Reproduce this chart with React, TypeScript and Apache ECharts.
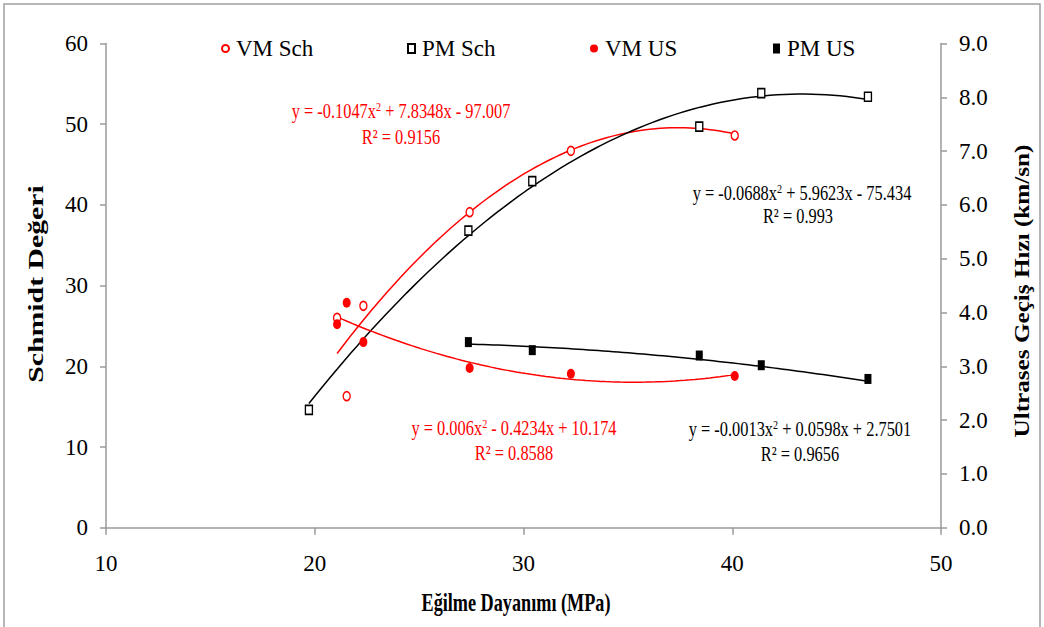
import React, { useEffect, useRef } from "react";
import * as echarts from "echarts";

// Flexural strength (MPa) of the samples
const vmStrength = [21.07, 21.53, 22.33, 27.42, 32.27, 40.12];
const pmStrength = [19.72, 27.36, 30.42, 38.42, 41.39, 46.5];
const pmUsStrength = [27.36, 30.42, 38.42, 41.39, 46.5];

// Schmidt rebound values (left axis)
const vmSchmidt = [26.0, 16.3, 27.5, 39.1, 46.7, 48.6];
const pmSchmidt = [14.6, 36.8, 42.95, 49.7, 53.85, 53.4];

// Ultrasonic pulse velocity, km/s (right axis)
const vmUltrasonic = [3.78, 4.18, 3.45, 2.97, 2.86, 2.82];
const pmUltrasonic = [3.45, 3.3, 3.2, 3.02, 2.765];

// Second-order trend fits: [a, b, c] for y = a x^2 + b x + c, and R²
const vmSchFit = [-0.1047, 7.8348, -97.007];
const pmSchFit = [-0.0688, 5.9623, -75.434];
const vmUsFit = [0.006, -0.4234, 10.174];
const pmUsFit = [-0.0013, 0.0598, 2.7501];
const vmSchR2 = "0.9156";
const pmSchR2 = "0.993";
const vmUsR2 = "0.8588";
const pmUsR2 = "0.9656";

const seriesNames = ["VM Sch", "PM Sch", "VM US", "PM US"];
const leftTicks = [0, 60, 10];
const rightTicks = [0, 9, 1];
const xTicks = [10, 50, 10];

const SERIF = "Liberation Serif";
const RED = "#ff0000";
const BLACK = "#000000";
const ELLIPSE = "path://M0,1A1,1,0,1,1,0,-1A1,1,0,1,1,0,1Z";

const pairs = (xs: number[], ys: number[]) => xs.map((x, i) => [x, ys[i]]);

// Trend curve sampled over the span of the measured strengths
const trend = (xs: number[], fit: number[]) => {
  const lo = Math.min(...xs);
  const hi = Math.max(...xs);
  const n = 80;
  const out: number[][] = [];
  for (let i = 0; i <= n; i++) {
    const x = lo + ((hi - lo) * i) / n;
    out.push([x, fit[0] * x * x + fit[1] * x + fit[2]]);
  }
  return out;
};

const term = (v: number) => (v < 0 ? `- ${Math.abs(v)}` : `+ ${v}`);
const equation = (fit: number[]) =>
  `{m|y = ${fit[0]}x}{s|2}{m| ${term(fit[1])}x ${term(fit[2])}}`;

const eqText = (text: string, x: number, y: number, color: string, rich = true) => ({
  type: "text",
  x,
  y,
  scaleX: 0.78,
  silent: true,
  style: {
    text,
    fill: color,
    fontFamily: SERIF,
    fontSize: 21,
    align: "center",
    verticalAlign: "middle",
    textAlign: "center",
    textVerticalAlign: "middle",
    rich: rich
      ? {
          m: { fontFamily: SERIF, fontSize: 21, lineHeight: 21, color, fill: color },
          s: { fontFamily: SERIF, fontSize: 13, lineHeight: 11, verticalAlign: "top", color, fill: color },
        }
      : undefined,
  },
});

const titleText = (text: string, x: number, y: number, rotation: number, sx: number, sy: number, size: number) => ({
  type: "text",
  x,
  y,
  rotation,
  scaleX: sx,
  scaleY: sy,
  silent: true,
  style: {
    text,
    fill: BLACK,
    fontFamily: SERIF,
    fontWeight: "bold",
    fontSize: size,
    align: "center",
    verticalAlign: "middle",
    textAlign: "center",
    textVerticalAlign: "middle",
  },
});

const axisGray = "#9a9a9a";
const tickFont = { fontFamily: SERIF, fontSize: 23, color: BLACK };

const legendSpots = [
  { left: 221, w: 7, h: 9 },
  { left: 407, w: 7, h: 9 },
  { left: 590, w: 8, h: 10 },
  { left: 773, w: 7, h: 10 },
];

const option: any = {
  animation: false,
  backgroundColor: "#ffffff",
  textStyle: { fontFamily: SERIF },
  grid: { left: 106, right: 103, top: 43.5, bottom: 99.3, containLabel: false },
  legend: seriesNames.map((name, i) => ({
    data: [name],
    left: legendSpots[i].left,
    top: 37,
    padding: 0,
    itemWidth: legendSpots[i].w,
    itemHeight: legendSpots[i].h,
    selectedMode: false,
    textStyle: { fontFamily: SERIF, fontSize: 23, color: BLACK, lineHeight: 22, padding: [0, 0, 0, 2] },
  })),
  xAxis: {
    type: "value",
    min: xTicks[0],
    max: xTicks[1],
    interval: xTicks[2],
    axisLine: { show: true, lineStyle: { color: axisGray, width: 1.5 } },
    axisTick: { show: true, inside: false, length: 7, lineStyle: { color: axisGray, width: 1.5 } },
    splitLine: { show: false },
    axisLabel: { ...tickFont, margin: 24 },
  },
  yAxis: [
    {
      type: "value",
      position: "left",
      min: leftTicks[0],
      max: leftTicks[1],
      interval: leftTicks[2],
      axisLine: { show: true, lineStyle: { color: axisGray, width: 1.5 } },
      axisTick: { show: true, inside: false, length: 6, lineStyle: { color: axisGray, width: 1.5 } },
      splitLine: { show: false },
      axisLabel: { ...tickFont, margin: 18 },
    },
    {
      type: "value",
      position: "right",
      min: rightTicks[0],
      max: rightTicks[1],
      interval: rightTicks[2],
      axisLine: { show: true, lineStyle: { color: axisGray, width: 1.5 } },
      axisTick: { show: true, inside: false, length: 6, lineStyle: { color: axisGray, width: 1.5 } },
      splitLine: { show: false },
      axisLabel: {
        ...tickFont,
        margin: 18,
        formatter: (v: number) => v.toFixed(1),
      },
    },
  ],
  series: [
    {
      name: "VM Sch trend",
      type: "line",
      yAxisIndex: 0,
      data: trend(vmStrength, vmSchFit),
      showSymbol: false,
      lineStyle: { color: RED, width: 1.5 },
      itemStyle: { color: RED },
      silent: true,
      z: 1,
    },
    {
      name: "PM Sch trend",
      type: "line",
      yAxisIndex: 0,
      data: trend(pmStrength, pmSchFit),
      showSymbol: false,
      lineStyle: { color: BLACK, width: 1.5 },
      itemStyle: { color: BLACK },
      silent: true,
      z: 1,
    },
    {
      name: "VM US trend",
      type: "line",
      yAxisIndex: 1,
      data: trend(vmStrength, vmUsFit),
      showSymbol: false,
      lineStyle: { color: RED, width: 1.5 },
      itemStyle: { color: RED },
      silent: true,
      z: 1,
    },
    {
      name: "PM US trend",
      type: "line",
      yAxisIndex: 1,
      data: trend(pmUsStrength, pmUsFit),
      showSymbol: false,
      lineStyle: { color: BLACK, width: 1.5 },
      itemStyle: { color: BLACK },
      silent: true,
      z: 1,
    },
    {
      name: seriesNames[0],
      type: "scatter",
      yAxisIndex: 0,
      data: pairs(vmStrength, vmSchmidt),
      symbol: ELLIPSE,
      symbolSize: [7, 9],
      itemStyle: { color: "#ffffff", borderColor: RED, borderWidth: 1.5, opacity: 1 },
      z: 3,
    },
    {
      name: seriesNames[1],
      type: "scatter",
      yAxisIndex: 0,
      data: pairs(pmStrength, pmSchmidt),
      symbol: "rect",
      symbolSize: [7, 9],
      itemStyle: { color: "#ffffff", borderColor: BLACK, borderWidth: 1.5, opacity: 1 },
      z: 3,
    },
    {
      name: seriesNames[2],
      type: "scatter",
      yAxisIndex: 1,
      data: pairs(vmStrength, vmUltrasonic),
      symbol: ELLIPSE,
      symbolSize: [8, 10],
      itemStyle: { color: RED, opacity: 1 },
      z: 3,
    },
    {
      name: seriesNames[3],
      type: "scatter",
      yAxisIndex: 1,
      data: pairs(pmUsStrength, pmUltrasonic),
      symbol: "rect",
      symbolSize: [7, 10],
      itemStyle: { color: BLACK, opacity: 1 },
      z: 3,
    },
  ],
  graphic: [
    {
      type: "rect",
      silent: true,
      z: -10,
      shape: { x: 4, y: 4, width: 1036, height: 640 },
      style: { fill: "none", stroke: "#a0a0a0", lineWidth: 1.5 },
    },
    titleText("Schmidt Değeri", 36, 284, Math.PI / 2, 1.24, 0.85, 24),
    titleText("Ultrases Geçiş Hızı (km/sn)", 1022, 291, Math.PI / 2, 1.05, 0.85, 24),
    titleText("Eğilme Dayanımı (MPa)", 516, 602, 0, 0.7, 1, 26),
    eqText(equation(vmSchFit), 401, 111, RED),
    eqText(`R² = ${vmSchR2}`, 401, 137, RED, false),
    eqText(equation(pmSchFit), 802, 193, BLACK),
    eqText(`R² = ${pmSchR2}`, 798, 216, BLACK, false),
    eqText(equation(vmUsFit), 514, 428, RED),
    eqText(`R² = ${vmUsR2}`, 514, 453, RED, false),
    eqText(equation(pmUsFit), 800, 429, BLACK),
    eqText(`R² = ${pmUsR2}`, 800, 454, BLACK, false),
  ],
};

export default function App() {
  const ref = useRef<HTMLDivElement>(null);
  useEffect(() => {
    if (!ref.current) return;
    const chart = echarts.init(ref.current, undefined, { renderer: "svg" });
    chart.setOption(option);
    return () => chart.dispose();
  }, []);
  return (
    <div
      ref={ref}
      style={{ position: "fixed", left: 0, top: 0, width: 1044, height: 627, background: "#ffffff" }}
    />
  );
}
